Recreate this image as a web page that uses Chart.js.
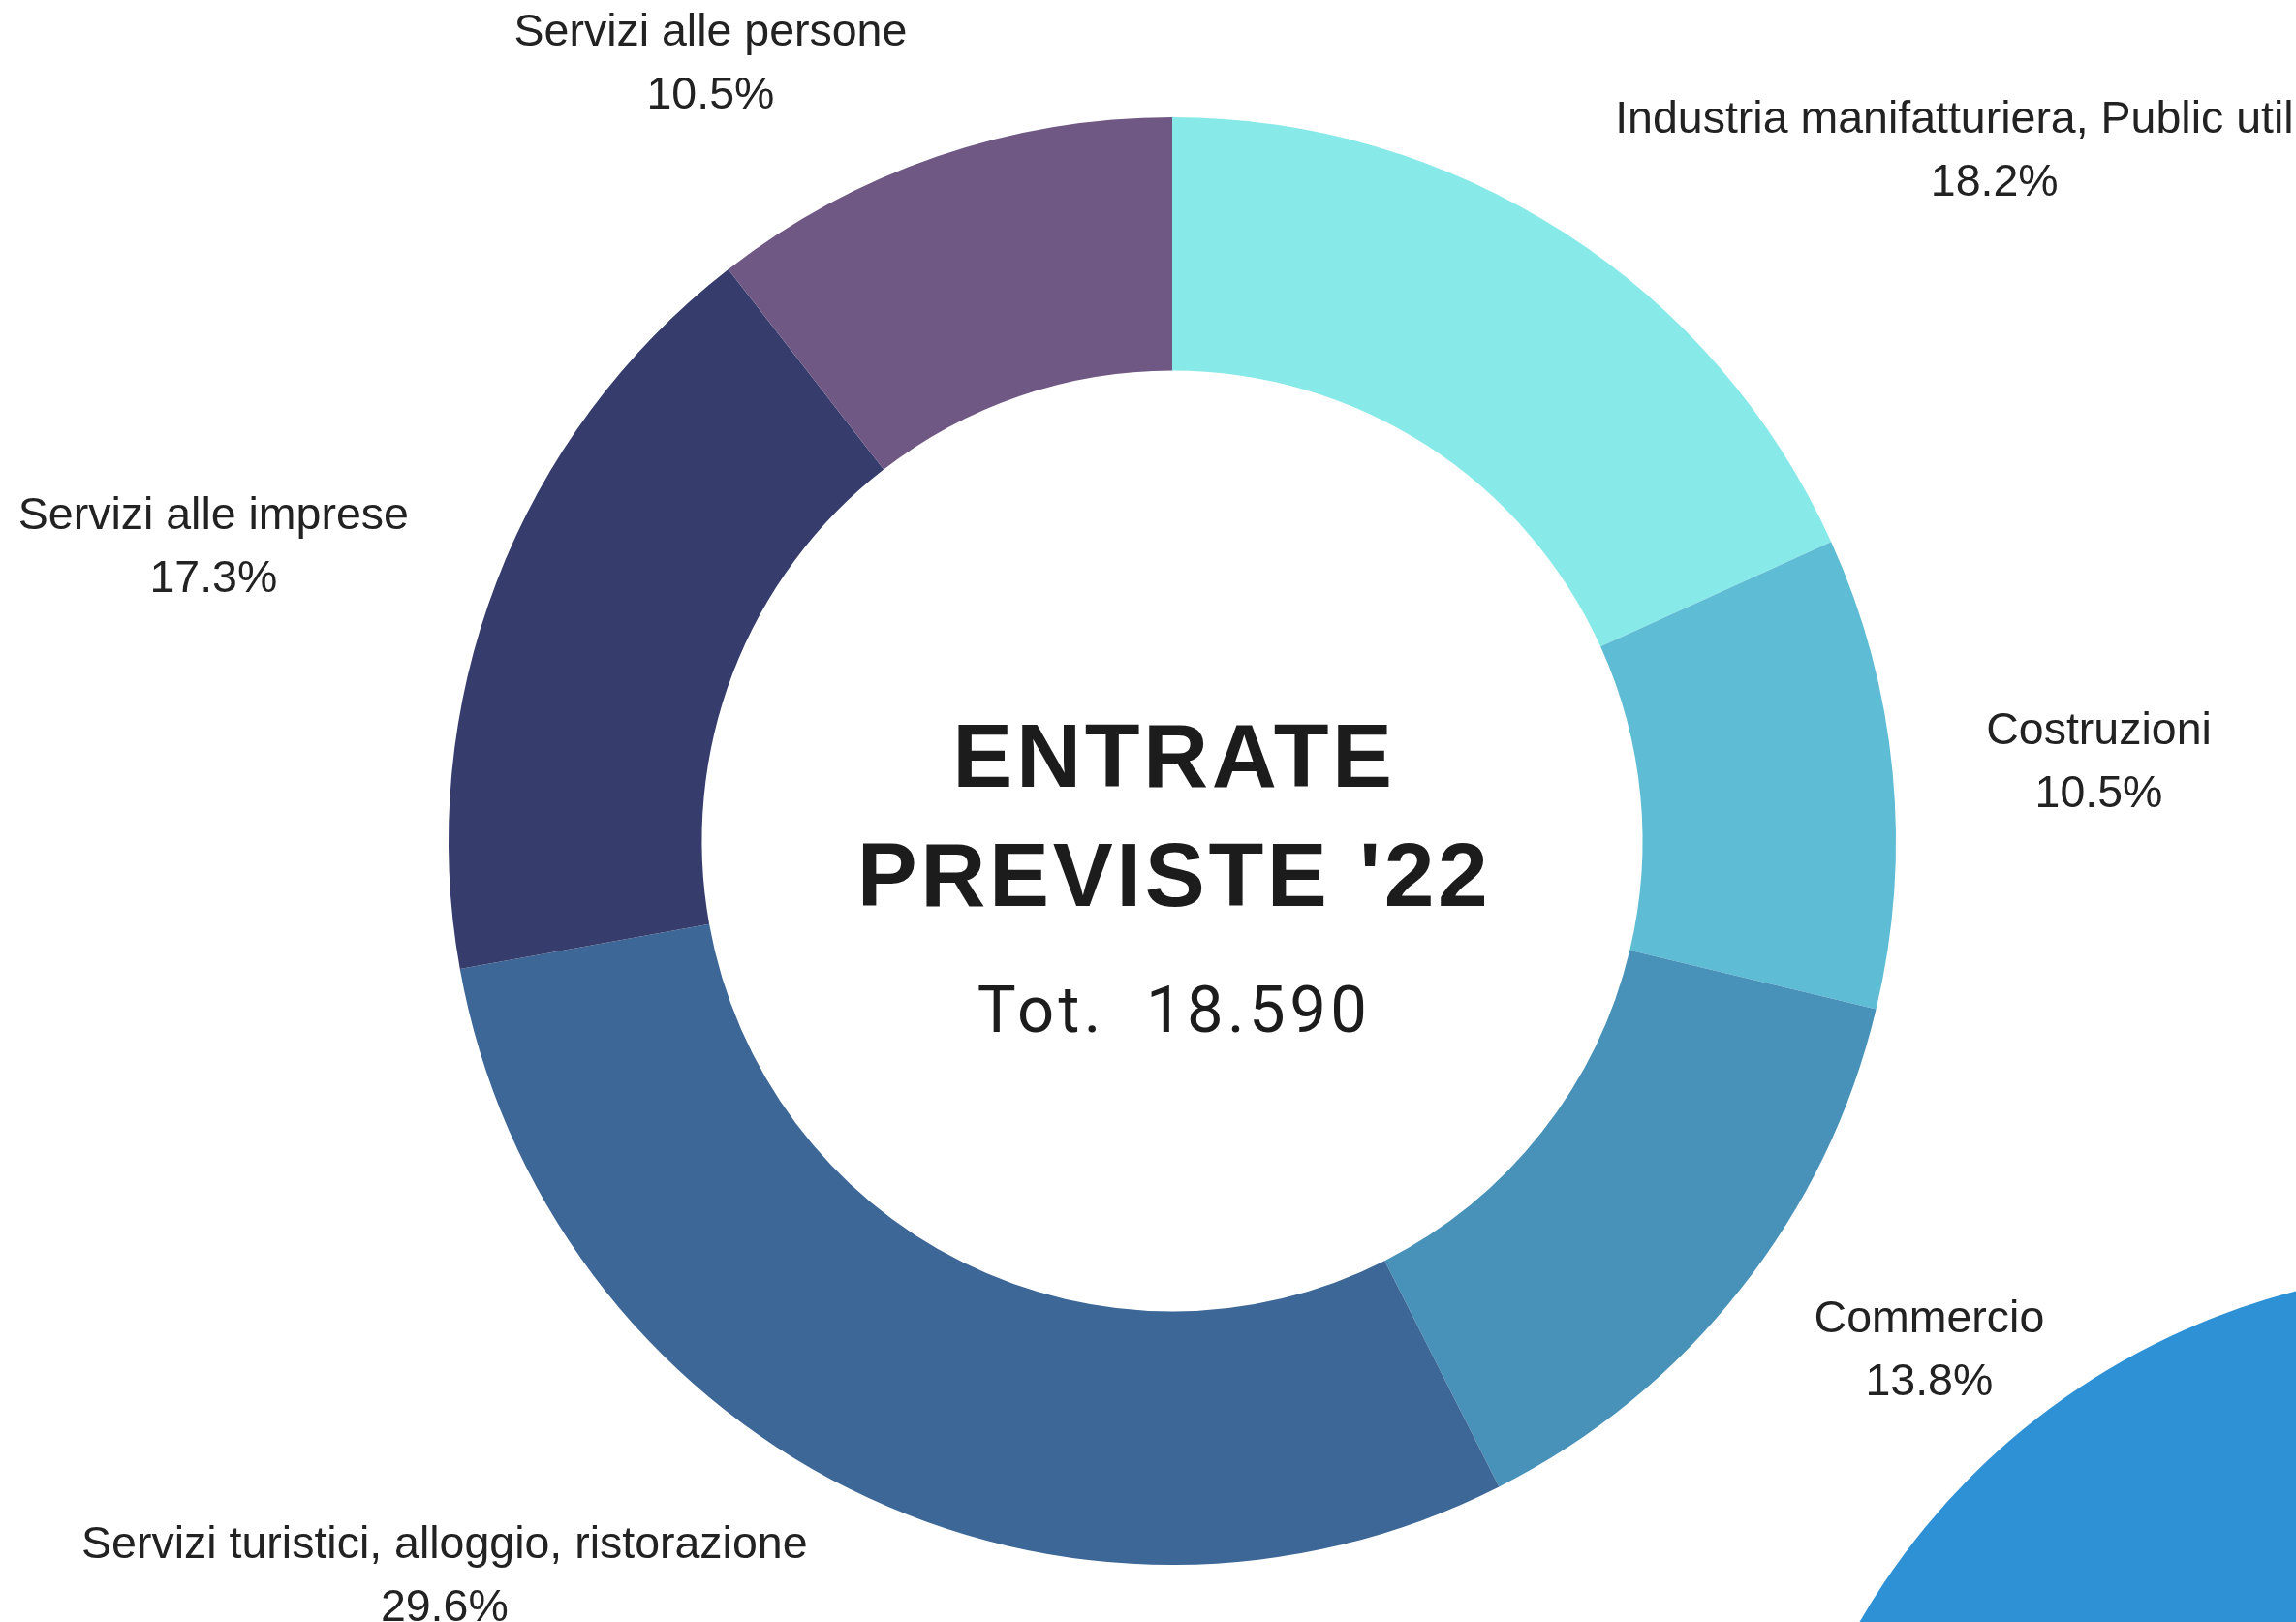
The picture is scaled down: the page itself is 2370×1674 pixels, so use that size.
<!DOCTYPE html>
<html>
<head>
<meta charset="utf-8">
<script src="https://cdn.jsdelivr.net/npm/chart.js@4/dist/chart.umd.min.js"></script>
<style>
html, body { margin: 0; padding: 0; background: #ffffff; overflow: hidden; width: 2370px; height: 1674px; }
#wrap { position: relative; width: 2370px; height: 1674px; overflow: hidden; }
#deco { position: absolute; left: 1822px; top: 1310px; width: 1456px; height: 1456px; border-radius: 50%; background: #2E91D6; }
#c { position: absolute; left: 0; top: 0; }
</style>
</head>
<body>
<div id="wrap">
  <div id="deco"></div>
  <canvas id="c" width="2370" height="1674"></canvas>
</div>
<script>
// ---- data ----
const categories = [
  'Industria manifatturiera, Public utilities',
  'Costruzioni',
  'Commercio',
  'Servizi turistici, alloggio, ristorazione',
  'Servizi alle imprese',
  'Servizi alle persone'
];
const shares = [18.2, 10.5, 13.8, 29.6, 17.3, 10.5];
const sliceColors = ['#87E9E8', '#5EBCD4', '#4892BA', '#3D6797', '#363D6D', '#705885'];
const centerTitle = ['ENTRATE', "PREVISTE '22"];
const centerTotal = 'Tot.  18.590';

// ---- plugins ----
const outerLabels = {
  id: 'outerLabels',
  afterDatasetsDraw(chart) {
    const ctx = chart.ctx;
    const meta = chart.getDatasetMeta(0);
    ctx.save();
    ctx.font = '46.5px "Liberation Sans", Arial, sans-serif';
    ctx.fillStyle = '#222222';
    ctx.textAlign = 'center';
    ctx.textBaseline = 'middle';
    meta.data.forEach((arc, i) => {
      const p = arc.getProps(['x', 'y', 'startAngle', 'endAngle', 'outerRadius'], true);
      const mid = (p.startAngle + p.endAngle) / 2;
      const rx = p.outerRadius * 1.13;
      const ry = p.outerRadius * 1.135;
      const ax = p.x + Math.cos(mid) * rx;
      const ay = p.y + Math.sin(mid) * ry + 1;
      const lines = [categories[i], shares[i].toFixed(1) + '%'];
      const w = Math.max(...lines.map(l => ctx.measureText(l).width));
      const bx = Math.cos(mid) >= 0 ? ax + w / 2 : ax - w / 2;
      lines.forEach((l, j) => ctx.fillText(l, bx, ay + (j - 0.5) * 65));
    });
    ctx.restore();
  }
};

const centerText = {
  id: 'centerText',
  afterDatasetsDraw(chart) {
    const ctx = chart.ctx;
    const arc = chart.getDatasetMeta(0).data[0];
    const cx = arc.x, cy = arc.y;
    ctx.save();
    ctx.fillStyle = '#1c1c1c';
    ctx.textAlign = 'center';
    ctx.textBaseline = 'alphabetic';
    ctx.font = 'bold 93px "Liberation Sans", Arial, sans-serif';
    if ('letterSpacing' in ctx) ctx.letterSpacing = '3.6px';
    ctx.fillText(centerTitle[0], cx + 2, cy - 56);
    ctx.fillText(centerTitle[1], cx + 2, cy + 67);
    ctx.font = '67px Roboto, "Liberation Sans", sans-serif';
    if ('letterSpacing' in ctx) ctx.letterSpacing = '4.4px';
    ctx.fillText(centerTotal, cx + 2, cy + 197);
    ctx.restore();
  }
};

new Chart(document.getElementById('c').getContext('2d'), {
  type: 'doughnut',
  data: {
    labels: categories,
    datasets: [{
      data: shares,
      backgroundColor: sliceColors,
      borderWidth: 0,
      hoverBorderWidth: 0,
      offset: 0,
      hoverOffset: 0
    }]
  },
  options: {
    responsive: false,
    devicePixelRatio: 1,
    animation: false,
    events: [],
    cutout: '65%',
    layout: { padding: { top: 121, bottom: 59, left: 50, right: 0 } },
    plugins: {
      legend: { display: false },
      tooltip: { enabled: false }
    }
  },
  plugins: [outerLabels, centerText]
});
</script>
</body>
</html>
